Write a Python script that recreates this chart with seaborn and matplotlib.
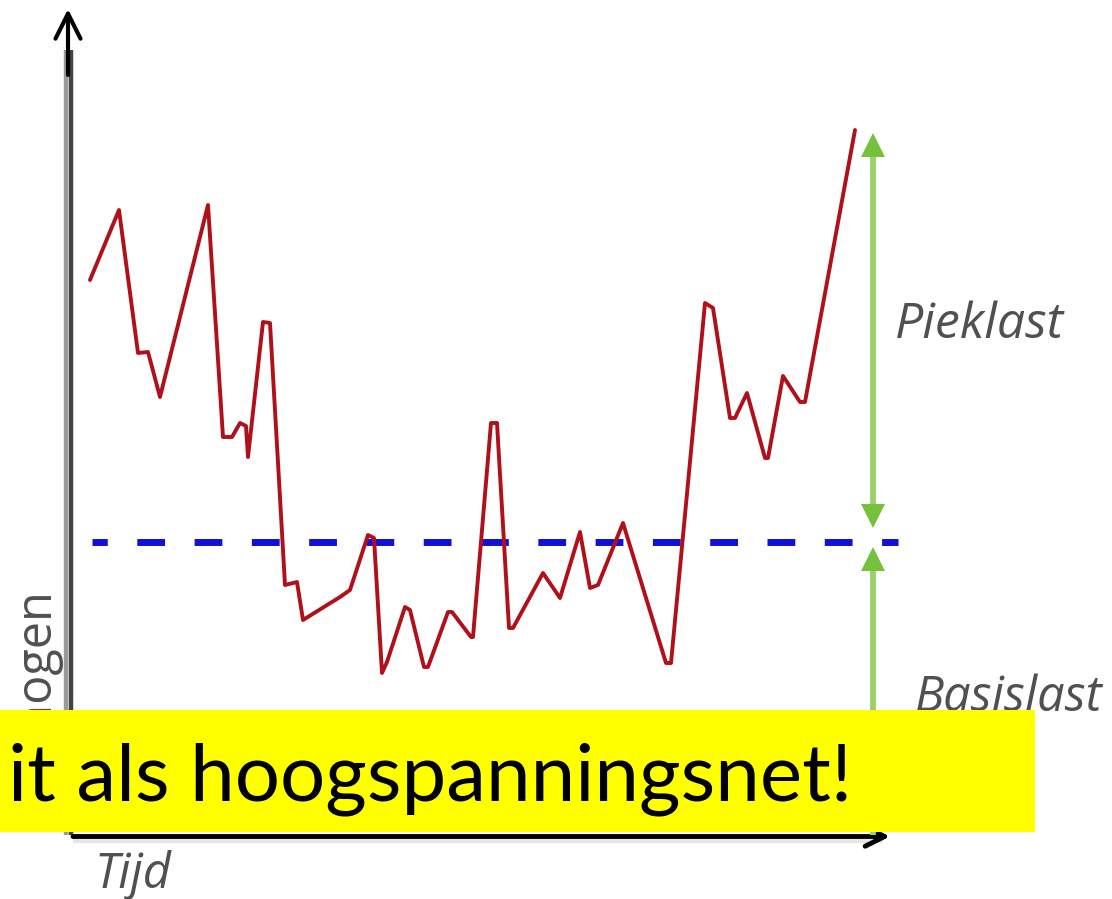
import matplotlib
matplotlib.use("Agg")
import matplotlib.pyplot as plt
import seaborn as sns
import pandas as pd

# ---- data ----
time = [2, 31, 50, 60, 72, 120, 135, 144, 152, 158, 160, 175, 182, 197, 209, 215,
        252, 262, 280, 286, 294, 299, 317, 322, 336, 340, 360, 364, 383, 385, 403,
        409, 421, 425, 455, 472, 492, 502, 510, 535, 578, 583, 617, 625, 642, 647,
        659, 677, 680, 695, 712, 717, 767]
power = [555, 625, 482, 483, 438, 630, 398, 398, 412, 409, 378, 513, 512, 250, 253, 215,
         238, 245, 300, 297, 162, 173, 228, 225, 168, 168, 223, 223, 198, 198, 412,
         412, 207, 207, 262, 237, 303, 247, 250, 312, 172, 172, 532, 527, 417, 417,
         442, 377, 377, 459, 433, 433, 705]
base_load = 293
peak_top = 698
labels = ["Pieklast", "Basislast"]
x_label = "Tijd"
y_label = "Vermogen"
banner = "it als hoogspanningsnet!"

df = pd.DataFrame({"tijd": time, "vermogen": power})

sns.set_style("white")
plt.rcParams["font.family"] = ["Open Sans", "DejaVu Sans"]

fig = plt.figure(figsize=(11.12, 8.99), dpi=100)
ax = fig.add_axes([0, 0, 1, 1])
ax.set_xlim(-88, 1024)
ax.set_ylim(-64, 835)
ax.axis("off")

# y axis (two-tone grey) with arrow
ax.plot([-22.5, -22.5], [0, 785], color="#9a9a9a", lw=3.2, solid_capstyle="butt", zorder=2)
ax.plot([-17.5, -17.5], [0, 785], color="#444444", lw=3.2, solid_capstyle="butt", zorder=2)
ax.annotate("", xy=(-20, 826), xytext=(-20, 760),
            arrowprops=dict(arrowstyle="->", lw=3, color="black", mutation_scale=45,
                            shrinkA=0, shrinkB=0), zorder=3)

# x axis with arrow
ax.plot([-15, 795], [-6, -6], color="#e6e6e6", lw=3, solid_capstyle="butt", zorder=2)
ax.annotate("", xy=(802, -1.5), xytext=(-15, -1.5),
            arrowprops=dict(arrowstyle="->", lw=3.5, color="black", mutation_scale=35,
                            shrinkA=0, shrinkB=0), zorder=3)

# base load dashed line
ax.hlines(base_load, 4, 810, colors="#1010d8", lw=5,
          linestyles=[(1.8, (4.0, 4.25))], zorder=3)

# load curve
sns.lineplot(data=df, x="tijd", y="vermogen", ax=ax, color="#b0101a", lw=2.8,
             zorder=4, legend=False)
ax.set_xlim(-88, 1024)
ax.set_ylim(-64, 835)
ax.axis("off")

# green arrows
gx = 785
ax.vlines(gx, base_load + 30, peak_top - 12, colors="#9bd06c", lw=4.2, zorder=3)
ax.vlines(gx, 0, base_load - 20, colors="#9bd06c", lw=4.2, zorder=3)
ax.plot([gx], [peak_top - 8], marker="^", ms=17, color="#74c23c", mew=0, zorder=4)
ax.plot([gx], [base_load + 26], marker="v", ms=17, color="#74c23c", mew=0, zorder=4)
ax.plot([gx], [base_load - 17], marker="^", ms=17, color="#74c23c", mew=0, zorder=4)

# labels
ax.text(807, 510, labels[0], fontsize=36, style="italic", color="#505050",
        ha="left", va="center", zorder=5)
ax.text(827, 137, labels[1], fontsize=35, style="italic", color="#505050",
        ha="left", va="center", zorder=5)
ax.text(7, -40, x_label, fontsize=35, style="italic", color="#505050",
        ha="left", va="center", zorder=5)
ax.text(-49, 244, y_label, fontsize=35, color="#505050", rotation=90,
        ha="center", va="top", zorder=5)

# yellow banner
ax.add_patch(plt.Rectangle((-88, 3), 1035, 122, facecolor="#ffff00",
                           edgecolor="none", zorder=10))
ax.text(-80, 35, banner, fontsize=57.5, color="black", family=["Lato", "DejaVu Sans"],
        ha="left", va="baseline", zorder=11)

fig.savefig("out.png", dpi=100)
